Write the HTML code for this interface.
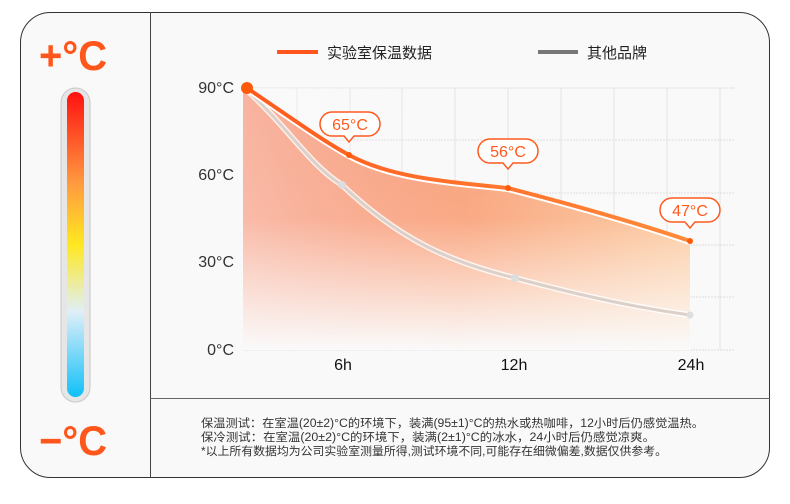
<!DOCTYPE html>
<html><head><meta charset="utf-8"><style>
html,body{margin:0;padding:0;background:#fff;}
svg{display:block;font-family:"Liberation Sans","Noto Sans CJK SC",sans-serif;}
</style></head><body>
<svg width="790" height="504" viewBox="0 0 790 504" xmlns="http://www.w3.org/2000/svg">
<defs>
<linearGradient id="fillH" x1="0" y1="0" x2="1" y2="0">
<stop offset="0" stop-color="#f77a55"/><stop offset="1" stop-color="#fbc79a"/>
</linearGradient>
<linearGradient id="fadeV" x1="0" y1="0" x2="0" y2="1">
<stop offset="0" stop-color="#fff" stop-opacity="0"/><stop offset="0.5" stop-color="#fff" stop-opacity="0.1"/><stop offset="1" stop-color="#fafafa" stop-opacity="1"/>
</linearGradient>
<linearGradient id="fadeL" x1="0" y1="0" x2="1" y2="0">
<stop offset="0" stop-color="#fafafa" stop-opacity="0.9"/><stop offset="0.5" stop-color="#fafafa" stop-opacity="0"/>
</linearGradient>
<linearGradient id="therm" x1="0" y1="0" x2="0" y2="1">
<stop offset="0" stop-color="#ff1010"/><stop offset="0.3" stop-color="#ff9a40"/><stop offset="0.5" stop-color="#ffe820"/><stop offset="0.72" stop-color="#dfeff8"/><stop offset="1" stop-color="#10c0f8"/>
</linearGradient>
<linearGradient id="lineG" x1="0" y1="0" x2="1" y2="0">
<stop offset="0" stop-color="#ff5a1e"/><stop offset="1" stop-color="#ff8a3a"/>
</linearGradient>
</defs>
<rect x="20.5" y="12.5" width="749" height="465" rx="30" fill="#f9f9f9" stroke="#333" stroke-width="1"/>
<line x1="150.5" y1="12" x2="150.5" y2="478" stroke="#444"/>
<line x1="150" y1="398.5" x2="770" y2="398.5" stroke="#666"/>
<!-- left -->
<text x="73" y="70" text-anchor="middle" font-size="42" font-weight="bold" fill="#ff561b" textLength="68" lengthAdjust="spacingAndGlyphs">+°C</text>
<text x="73" y="455" text-anchor="middle" font-size="42" font-weight="bold" fill="#ff561b" textLength="68" lengthAdjust="spacingAndGlyphs">−°C</text>
<rect x="61" y="88" width="29" height="314" rx="14.5" fill="#e6e6e6" stroke="#c8c8c8"/>
<rect x="67" y="92" width="17" height="305" rx="8.5" fill="url(#therm)"/>
<!-- legend -->
<line x1="277" y1="52" x2="318" y2="52" stroke="#ff561b" stroke-width="4"/>
<text x="327" y="58" font-size="15" fill="#222">实验室保温数据</text>
<line x1="538" y1="52" x2="578" y2="52" stroke="#777" stroke-width="4"/>
<text x="587" y="58" font-size="15" fill="#222">其他品牌</text>
<!-- grid -->
<g stroke="#ddd" stroke-width="1" stroke-dasharray="2,1">
<line x1="243" y1="88" x2="735" y2="88"/><line x1="243" y1="140" x2="735" y2="140"/><line x1="243" y1="193" x2="735" y2="193"/><line x1="243" y1="245" x2="735" y2="245"/><line x1="243" y1="297" x2="735" y2="297"/><line x1="243" y1="350" x2="735" y2="350"/>
</g>
<g stroke="#e2e2e2" stroke-width="1">
<line x1="297" y1="88" x2="297" y2="350"/><line x1="350" y1="88" x2="350" y2="350"/><line x1="402" y1="88" x2="402" y2="350"/><line x1="455" y1="88" x2="455" y2="350"/><line x1="508" y1="88" x2="508" y2="350"/><line x1="561" y1="88" x2="561" y2="350"/><line x1="614" y1="88" x2="614" y2="350"/><line x1="667" y1="88" x2="667" y2="350"/><line x1="720" y1="88" x2="720" y2="350"/>
</g>
<g font-size="16" fill="#333" text-anchor="end">
<text x="234" y="93">90°C</text><text x="234" y="180">60°C</text><text x="234" y="267">30°C</text><text x="234" y="355">0°C</text>
</g>
<g font-size="16" fill="#111" text-anchor="middle">
<text x="343" y="370">6h</text><text x="514" y="370">12h</text><text x="691" y="370">24h</text>
</g>
<!-- area -->
<path d="M243 90 L247 88 C290 118 320 140 349 155 C390 178 440 182 508 188 C570 205 640 225 690 241 L690 350 L243 350 Z" fill="url(#fillH)"/>
<rect x="243" y="88" width="448" height="262" fill="url(#fadeV)"/>
<rect x="243" y="88" width="448" height="262" fill="url(#fadeL)" opacity="0.5"/>
<!-- gray line -->
<path d="M247 90 C290 130 310 165 342 185 C400 240 450 262 515 278 C590 298 640 308 690 315" fill="none" stroke="#fff" stroke-width="6" opacity="0.8"/>
<path d="M247 90 C290 130 310 165 342 185 C400 240 450 262 515 278 C590 298 640 308 690 315" fill="none" stroke="#ddd0c8" stroke-width="3"/>
<circle cx="342" cy="185" r="4" fill="#ddd"/><circle cx="515" cy="278" r="4" fill="#ddd"/><circle cx="690" cy="315" r="3.5" fill="#ddd"/>
<!-- orange line -->
<path d="M247 89 C290 118 320 140 349 156 C390 178 440 182 508 189 C570 205 640 225 690 242" fill="none" stroke="#fff" stroke-width="6"/>
<path d="M247 88 C290 117 320 139 349 155 C390 177 440 181 508 188 C570 204 640 224 690 241" fill="none" stroke="url(#lineG)" stroke-width="4"/>
<circle cx="247" cy="88" r="6" fill="#ff5a0a"/>
<circle cx="349" cy="155" r="3" fill="#ff5a0a"/><circle cx="508" cy="188" r="3" fill="#ff5a0a"/><circle cx="690" cy="241" r="3" fill="#ff5a0a"/>
<!-- bubbles -->
<g fill="#fff" stroke="#ff5a1e" stroke-width="1.5">
<path d="M332 112 H368 A12 12 0 0 1 368 136 H354 L349 142 L344 136 H332 A12 12 0 0 1 332 112 Z"/>
<path d="M490 139 H526 A12 12 0 0 1 526 163 H513 L508 169 L503 163 H490 A12 12 0 0 1 490 139 Z"/>
<path d="M672 198 H708 A12 12 0 0 1 708 222 H695 L690 228 L685 222 H672 A12 12 0 0 1 672 198 Z"/>
</g>
<g font-size="16" fill="#ff5a1e" text-anchor="middle">
<text x="350" y="130">65°C</text><text x="508" y="157">56°C</text><text x="690" y="216">47°C</text>
</g>
<!-- footer -->
<g font-size="11.5" fill="#333">
<text x="201" y="427" textLength="503" lengthAdjust="spacingAndGlyphs">保温测试：在室温(20±2)°C的环境下，装满(95±1)°C的热水或热咖啡，12小时后仍感觉温热。</text>
<text x="201" y="441" textLength="454" lengthAdjust="spacingAndGlyphs">保冷测试：在室温(20±2)°C的环境下，装满(2±1)°C的冰水，24小时后仍感觉凉爽。</text>
<text x="201" y="455" textLength="466" lengthAdjust="spacingAndGlyphs">*以上所有数据均为公司实验室测量所得,测试环境不同,可能存在细微偏差,数据仅供参考。</text>
</g>
</svg>
</body></html>
